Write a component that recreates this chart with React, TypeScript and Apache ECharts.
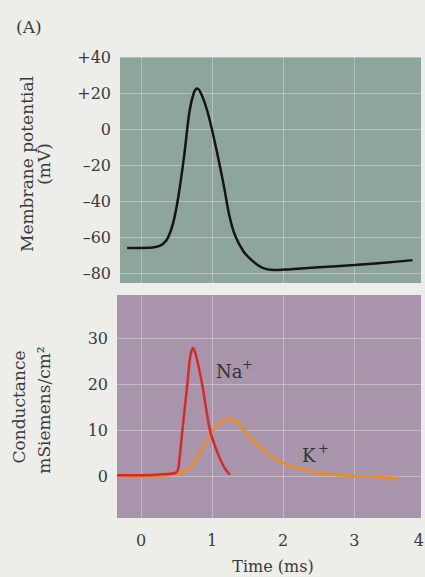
import React, { useEffect, useRef } from "react";
import * as echarts from "echarts";

// Top panel: membrane potential (mV) vs time (ms)
const vmTime = [-0.2, 0.0, 0.2, 0.3, 0.38, 0.45, 0.52, 0.6, 0.68, 0.74, 0.79, 0.85, 0.93, 1.04, 1.16, 1.24, 1.32, 1.44, 1.56, 1.7, 1.86, 2.1, 2.5, 3.0, 3.5, 3.82];
const vmValues = [-66, -66, -65.5, -64, -60, -52, -38, -16, 10, 20, 22.5, 19, 10, -8, -31, -48, -59, -68, -73, -77, -78.3, -77.8, -76.8, -75.5, -74, -72.8];

// Bottom panel: conductances (mSiemens/cm2) vs time (ms)
const naTime = [-0.34, 0.0, 0.3, 0.5, 0.54, 0.58, 0.65, 0.69, 0.73, 0.77, 0.86, 0.97, 1.08, 1.17, 1.25];
const naValues = [0.3, 0.3, 0.5, 1, 4, 10, 20, 26, 28, 26.5, 20, 10, 5, 2, 0.4];
const kTime = [-0.34, 0.0, 0.3, 0.5, 0.62, 0.72, 0.83, 0.93, 1.02, 1.12, 1.22, 1.3, 1.4, 1.52, 1.68, 1.84, 2.0, 2.2, 2.47, 2.8, 3.2, 3.62];
const kValues = [0, -0.1, 0.2, 0.6, 1.2, 2.5, 5.2, 8, 10.3, 11.8, 12.5, 12.4, 11, 8.8, 6.3, 4.3, 3, 1.9, 0.9, 0.3, 0, -0.3];

const vmTicks = [-80, -60, -40, -20, 0, 20, 40];
const gTicks = [0, 10, 20, 30];
const timeTicks = [0, 1, 2, 3];

const FONT = "DejaVu Serif";
const TEXT = "#3a3a3a";
const GRIDLINE = "rgba(235,235,230,0.4)";

function pair(xs: number[], ys: number[]) {
  return xs.map((x, i) => [x, ys[i]]);
}

export default function App() {
  const ref = useRef<HTMLDivElement>(null);
  useEffect(() => {
    if (!ref.current) return;
    const chart = echarts.init(ref.current, null, { renderer: "svg" });
    const fmtV = (v: number) => (v > 0 ? "+" + v : v < 0 ? "\u2013" + Math.abs(v) : "0");
    chart.setOption({
      animation: false,
      backgroundColor: "#ededea",
      grid: [
        { left: 120, top: 57, width: 301, height: 226, show: true, backgroundColor: "#8ea59c", borderWidth: 0 },
        { left: 117, top: 295, width: 304, height: 223, show: true, backgroundColor: "#a894ab", borderWidth: 0 },
      ],
      xAxis: [
        {
          gridIndex: 0, type: "value", min: -0.3, max: 3.94,
          axisLine: { show: false }, axisTick: { show: false, customValues: timeTicks },
          axisLabel: { show: false, customValues: timeTicks },
          splitLine: { show: true, lineStyle: { color: GRIDLINE, width: 1 } },
        },
        {
          gridIndex: 1, type: "value", min: -0.34, max: 3.94,
          axisLine: { show: false }, axisTick: { show: false, customValues: timeTicks },
          axisLabel: { show: true, customValues: timeTicks, margin: 14, fontFamily: FONT, fontSize: 16, color: TEXT },
          splitLine: { show: true, lineStyle: { color: GRIDLINE, width: 1 } },
        },
      ],
      yAxis: [
        {
          gridIndex: 0, type: "value", min: -85.5, max: 40,
          axisLine: { show: false }, axisTick: { show: false, customValues: vmTicks },
          axisLabel: { customValues: vmTicks, formatter: fmtV, margin: 9, fontFamily: FONT, fontSize: 16, color: TEXT },
          splitLine: { show: true, lineStyle: { color: GRIDLINE, width: 1 } },
        },
        {
          gridIndex: 1, type: "value", min: -9, max: 39.5,
          axisLine: { show: false }, axisTick: { show: false, customValues: gTicks },
          axisLabel: { customValues: gTicks, margin: 9, fontFamily: FONT, fontSize: 16, color: TEXT },
          splitLine: { show: true, lineStyle: { color: GRIDLINE, width: 1 } },
        },
      ],
      series: [
        {
          type: "line", xAxisIndex: 0, yAxisIndex: 0, data: pair(vmTime, vmValues),
          smooth: 0.35, showSymbol: false, lineStyle: { color: "#151515", width: 2.5 },
        },
        {
          type: "line", xAxisIndex: 1, yAxisIndex: 1, data: pair(kTime, kValues),
          smooth: 0.35, showSymbol: false, lineStyle: { color: "#ec8c1e", width: 2.5 },
        },
        {
          type: "line", xAxisIndex: 1, yAxisIndex: 1, data: pair(naTime, naValues),
          smooth: 0.3, showSymbol: false, lineStyle: { color: "#d8282c", width: 2.5 },
        },
      ],
      graphic: [
        { type: "text", x: 16, y: 18, style: { text: "(A)", font: `17px "${FONT}"`, fill: TEXT } },
        {
          type: "text", x: 27, y: 164, rotation: Math.PI / 2,
          style: { text: "Membrane potential", font: `17px "${FONT}"`, fill: TEXT, textAlign: "center", textVerticalAlign: "middle" },
        },
        {
          type: "text", x: 44, y: 164, rotation: Math.PI / 2,
          style: { text: "(mV)", font: `17px "${FONT}"`, fill: TEXT, textAlign: "center", textVerticalAlign: "middle" },
        },
        {
          type: "text", x: 19, y: 407, rotation: Math.PI / 2,
          style: { text: "Conductance", font: `17px "${FONT}"`, fill: TEXT, textAlign: "center", textVerticalAlign: "middle" },
        },
        {
          type: "text", x: 44, y: 410, rotation: Math.PI / 2,
          style: { text: "mSiemens/cm\u00b2", font: `17px "${FONT}"`, fill: TEXT, textAlign: "center", textVerticalAlign: "middle" },
        },
        { type: "text", x: 216, y: 371, style: { text: "Na", font: `18px "${FONT}"`, fill: "#333", textVerticalAlign: "middle" } },
        { type: "text", x: 242, y: 364, style: { text: "+", font: `13px "${FONT}"`, fill: "#333", textVerticalAlign: "middle" } },
        { type: "text", x: 302, y: 455, style: { text: "K", font: `18px "${FONT}"`, fill: "#333", textVerticalAlign: "middle" } },
        { type: "text", x: 318, y: 448, style: { text: "+", font: `13px "${FONT}"`, fill: "#333", textVerticalAlign: "middle" } },
        { type: "text", x: 424, y: 540, style: { text: "4", font: `16px "${FONT}"`, fill: TEXT, textAlign: "right", textVerticalAlign: "middle" } },
        { type: "text", x: 273, y: 566, style: { text: "Time (ms)", font: `16px "${FONT}"`, fill: TEXT, textAlign: "center", textVerticalAlign: "middle" } },
      ],
    });
    return () => chart.dispose();
  }, []);
  return <div ref={ref} style={{ position: "fixed", left: 0, top: 0, width: 425, height: 577 }} />;
}
